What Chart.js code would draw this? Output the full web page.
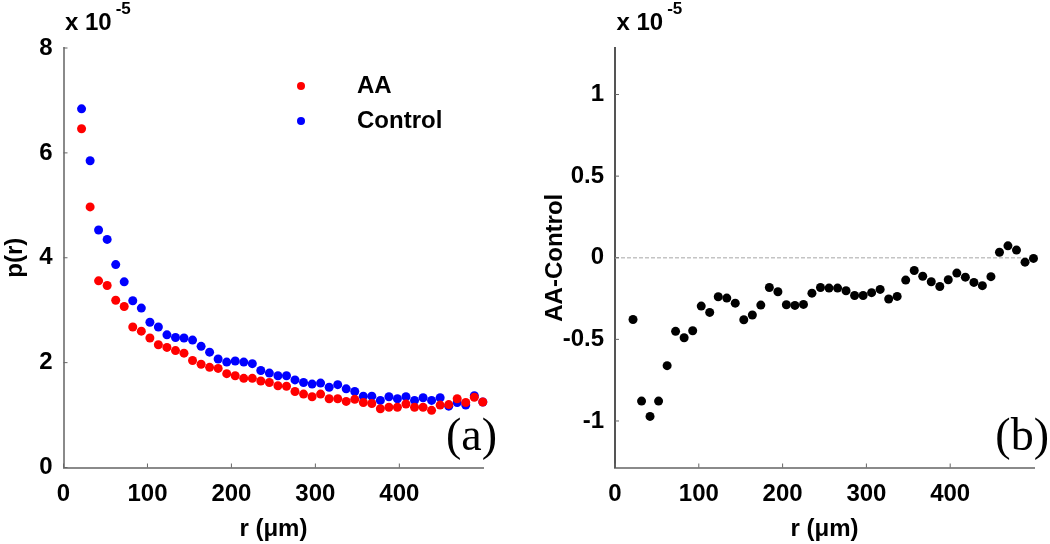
<!DOCTYPE html>
<html><head><meta charset="utf-8">
<script src="https://cdn.jsdelivr.net/npm/chart.js@4.4.1/dist/chart.umd.min.js"></script>
<style>
html,body{margin:0;padding:0;background:#fff;width:1050px;height:544px;overflow:hidden}
#c1{position:absolute;left:0;top:0}
#c2{position:absolute;left:525px;top:0}
</style></head><body>
<canvas id="c1" width="525" height="544"></canvas>
<canvas id="c2" width="525" height="544"></canvas>
<script>
// ---- data (values in units of 1e-5) ----
const r = [21.5, 31.7, 41.8, 52.0, 62.2, 72.3, 82.5, 92.7, 102.9, 113.0,
  123.2, 133.4, 143.5, 153.7, 163.9, 174.0, 184.2, 194.4, 204.5, 214.7,
  224.9, 235.0, 245.2, 255.4, 265.6, 275.7, 285.9, 296.1, 306.2, 316.4,
  326.6, 336.7, 346.9, 357.1, 367.2, 377.4, 387.6, 397.7, 407.9, 418.1,
  428.3, 438.4, 448.6, 458.8, 468.9, 479.1, 489.3, 499.4];
const aa = [6.46, 4.97, 3.56, 3.47, 3.19, 3.07, 2.68, 2.60, 2.47, 2.34,
  2.29, 2.23, 2.18, 2.04, 1.97, 1.91, 1.89, 1.79, 1.75, 1.70,
  1.70, 1.65, 1.62, 1.56, 1.55, 1.45, 1.40, 1.35, 1.40, 1.31,
  1.31, 1.26, 1.30, 1.24, 1.22, 1.12, 1.15, 1.15, 1.21, 1.15,
  1.15, 1.09, 1.19, 1.20, 1.31, 1.24, 1.34, 1.25];
const control = [6.84, 5.85, 4.53, 4.35, 3.87, 3.54, 3.18, 3.04, 2.77, 2.68,
  2.53, 2.48, 2.47, 2.43, 2.31, 2.20, 2.07, 2.01, 2.03, 2.01,
  1.98, 1.85, 1.80, 1.75, 1.75, 1.67, 1.62, 1.59, 1.61, 1.53,
  1.58, 1.50, 1.45, 1.36, 1.36, 1.28, 1.35, 1.31, 1.35, 1.28,
  1.33, 1.28, 1.33, 1.17, 1.24, 1.19, 1.37, 1.25];
const diff = [-0.378, -0.878, -0.972, -0.878, -0.661, -0.451, -0.490, -0.447, -0.296, -0.335,
  -0.239, -0.247, -0.278, -0.380, -0.351, -0.290, -0.182, -0.208, -0.288, -0.292,
  -0.286, -0.217, -0.182, -0.186, -0.186, -0.202, -0.231, -0.231, -0.214, -0.194,
  -0.253, -0.237, -0.137, -0.078, -0.113, -0.147, -0.176, -0.135, -0.094, -0.119,
  -0.151, -0.171, -0.116, 0.034, 0.073, 0.047, -0.027, -0.004];
const zeroLine = [0, 0];
const xTicks = [0, 100, 200, 300, 400];
const leftYTicks = [0, 2, 4, 6, 8];
const rightYTicks = [-1, -0.5, 0, 0.5, 1];
const seriesNames = ['AA', 'Control'];
const diffName = 'AA-Control';
const leftYTitle = 'p(r)';
const xTitle = 'r (\u03bcm)';
const expBase = 'x 10';
const expPow = '-5';
const panelNames = ['(a)', '(b)'];

const SANS = '"Liberation Sans", Arial, sans-serif';
const SERIF = '"Liberation Serif", "Times New Roman", serif';
const tickFont = {family: SANS, size: 24, weight: 'bold'};

function pts(xs, ys) { return xs.map((x, i) => ({x: x, y: ys[i]})); }

function decor(o) {
  return {
    id: 'decor',
    afterDraw(chart) {
      const ctx = chart.ctx, a = chart.chartArea;
      const xs = chart.scales.x, ys = chart.scales.y;
      ctx.save();
      // inward tick marks
      ctx.strokeStyle = o.tickColor; ctx.lineWidth = 1;
      xs.ticks.forEach(t => { const p = xs.getPixelForValue(t.value);
        ctx.beginPath(); ctx.moveTo(p, a.bottom); ctx.lineTo(p, a.bottom - 4); ctx.stroke(); });
      ys.ticks.forEach(t => { const p = ys.getPixelForValue(t.value);
        ctx.beginPath(); ctx.moveTo(a.left, p); ctx.lineTo(a.left + 4, p); ctx.stroke(); });
      // exponent label
      ctx.fillStyle = '#000'; ctx.textAlign = 'left'; ctx.textBaseline = 'middle';
      ctx.font = 'bold 24px ' + SANS;
      ctx.fillText(expBase, a.left + 1.5, 23);
      const w = ctx.measureText(expBase).width;
      ctx.font = 'bold 17px ' + SANS;
      ctx.fillText(expPow, a.left + 1.5 + w + 4, 9);
      // panel label
      ctx.font = '46px ' + SERIF; ctx.textAlign = 'right'; ctx.textBaseline = 'alphabetic';
      ctx.fillText(o.panel, o.panelX, 450);
      // legend
      if (o.legend) {
        chart.data.datasets.forEach((ds, i) => {
          const y = 86 + i * 35;
          ctx.fillStyle = ds.backgroundColor;
          ctx.beginPath(); ctx.arc(301, y, 4, 0, Math.PI * 2); ctx.fill();
          ctx.fillStyle = '#000'; ctx.font = 'bold 24px ' + SANS;
          ctx.textAlign = 'left'; ctx.textBaseline = 'middle';
          ctx.fillText(ds.label, 357, y);
        });
      }
      ctx.restore();
    }
  };
}

function xScale(borderColor) {
  return {
    type: 'linear', min: 0, max: 500,
    afterBuildTicks: s => { s.ticks = xTicks.map(v => ({value: v})); },
    afterFit: s => { s.height = 76.5; },
    grid: {display: false, drawTicks: false},
    border: {display: true, color: borderColor, width: 2},
    ticks: {font: tickFont, color: '#000', padding: 12, maxRotation: 0, autoSkip: false,
      callback: v => String(v)},
    title: {display: true, text: xTitle, font: tickFont, color: '#000', padding: {top: 0, bottom: 0}}
  };
}

// ---- left chart ----
new Chart(document.getElementById('c1'), {
  type: 'scatter',
  data: {datasets: [
    {label: seriesNames[0], data: pts(r, aa), backgroundColor: '#ff0000', pointRadius: 4.5, borderWidth: 0, clip: false},
    {label: seriesNames[1], data: pts(r, control), backgroundColor: '#0000ff', pointRadius: 4.5, borderWidth: 0, clip: false}
  ]},
  options: {
    responsive: false, animation: false, devicePixelRatio: 1,
    layout: {padding: {top: 48, right: 41.7, left: 0, bottom: 0}},
    plugins: {legend: {display: false}, tooltip: {enabled: false}},
    scales: {
      x: xScale('#8a8a8a'),
      y: {
        type: 'linear', min: 0, max: 8,
        afterBuildTicks: s => { s.ticks = leftYTicks.map(v => ({value: v})); },
        afterFit: s => { s.width = 63.5; },
        grid: {display: false, drawTicks: false},
        border: {display: true, color: '#8a8a8a', width: 2},
        ticks: {font: tickFont, color: '#000', padding: 11, callback: v => String(v)},
        title: {display: true, text: leftYTitle, font: tickFont, color: '#000', padding: {top: 1, bottom: 0}}
      }
    }
  },
  plugins: [decor({tickColor: '#666', panel: panelNames[0], panelX: 497, legend: true})]
});

// ---- right chart ----
new Chart(document.getElementById('c2'), {
  type: 'scatter',
  data: {datasets: [
    {label: diffName, data: pts(r, diff), backgroundColor: '#000000', pointRadius: 4.5, borderWidth: 0, clip: false},
    {label: 'zero', type: 'line', data: pts([0, 503], zeroLine), borderColor: '#c4c4c4', borderWidth: 1.5,
      borderDash: [4, 2], pointRadius: 0, clip: false}
  ]},
  options: {
    responsive: false, animation: false, devicePixelRatio: 1,
    layout: {padding: {top: 48, right: 16, left: 0, bottom: 0}},
    plugins: {legend: {display: false}, tooltip: {enabled: false}},
    scales: {
      x: xScale('#8a8a8a'),
      y: {
        type: 'linear', min: -1.285, max: 1.285,
        afterBuildTicks: s => { s.ticks = rightYTicks.map(v => ({value: v})); },
        afterFit: s => { s.width = 90; },
        grid: {display: false, drawTicks: false},
        border: {display: true, color: '#555', width: 2},
        ticks: {font: tickFont, color: '#000', padding: 11, callback: v => String(v)},
        title: {display: true, text: diffName, font: tickFont, color: '#000', padding: {top: 16, bottom: 0}}
      }
    }
  },
  plugins: [decor({tickColor: '#666', panel: panelNames[1], panelX: 1049 - 525, legend: false})]
});
</script>
</body></html>
